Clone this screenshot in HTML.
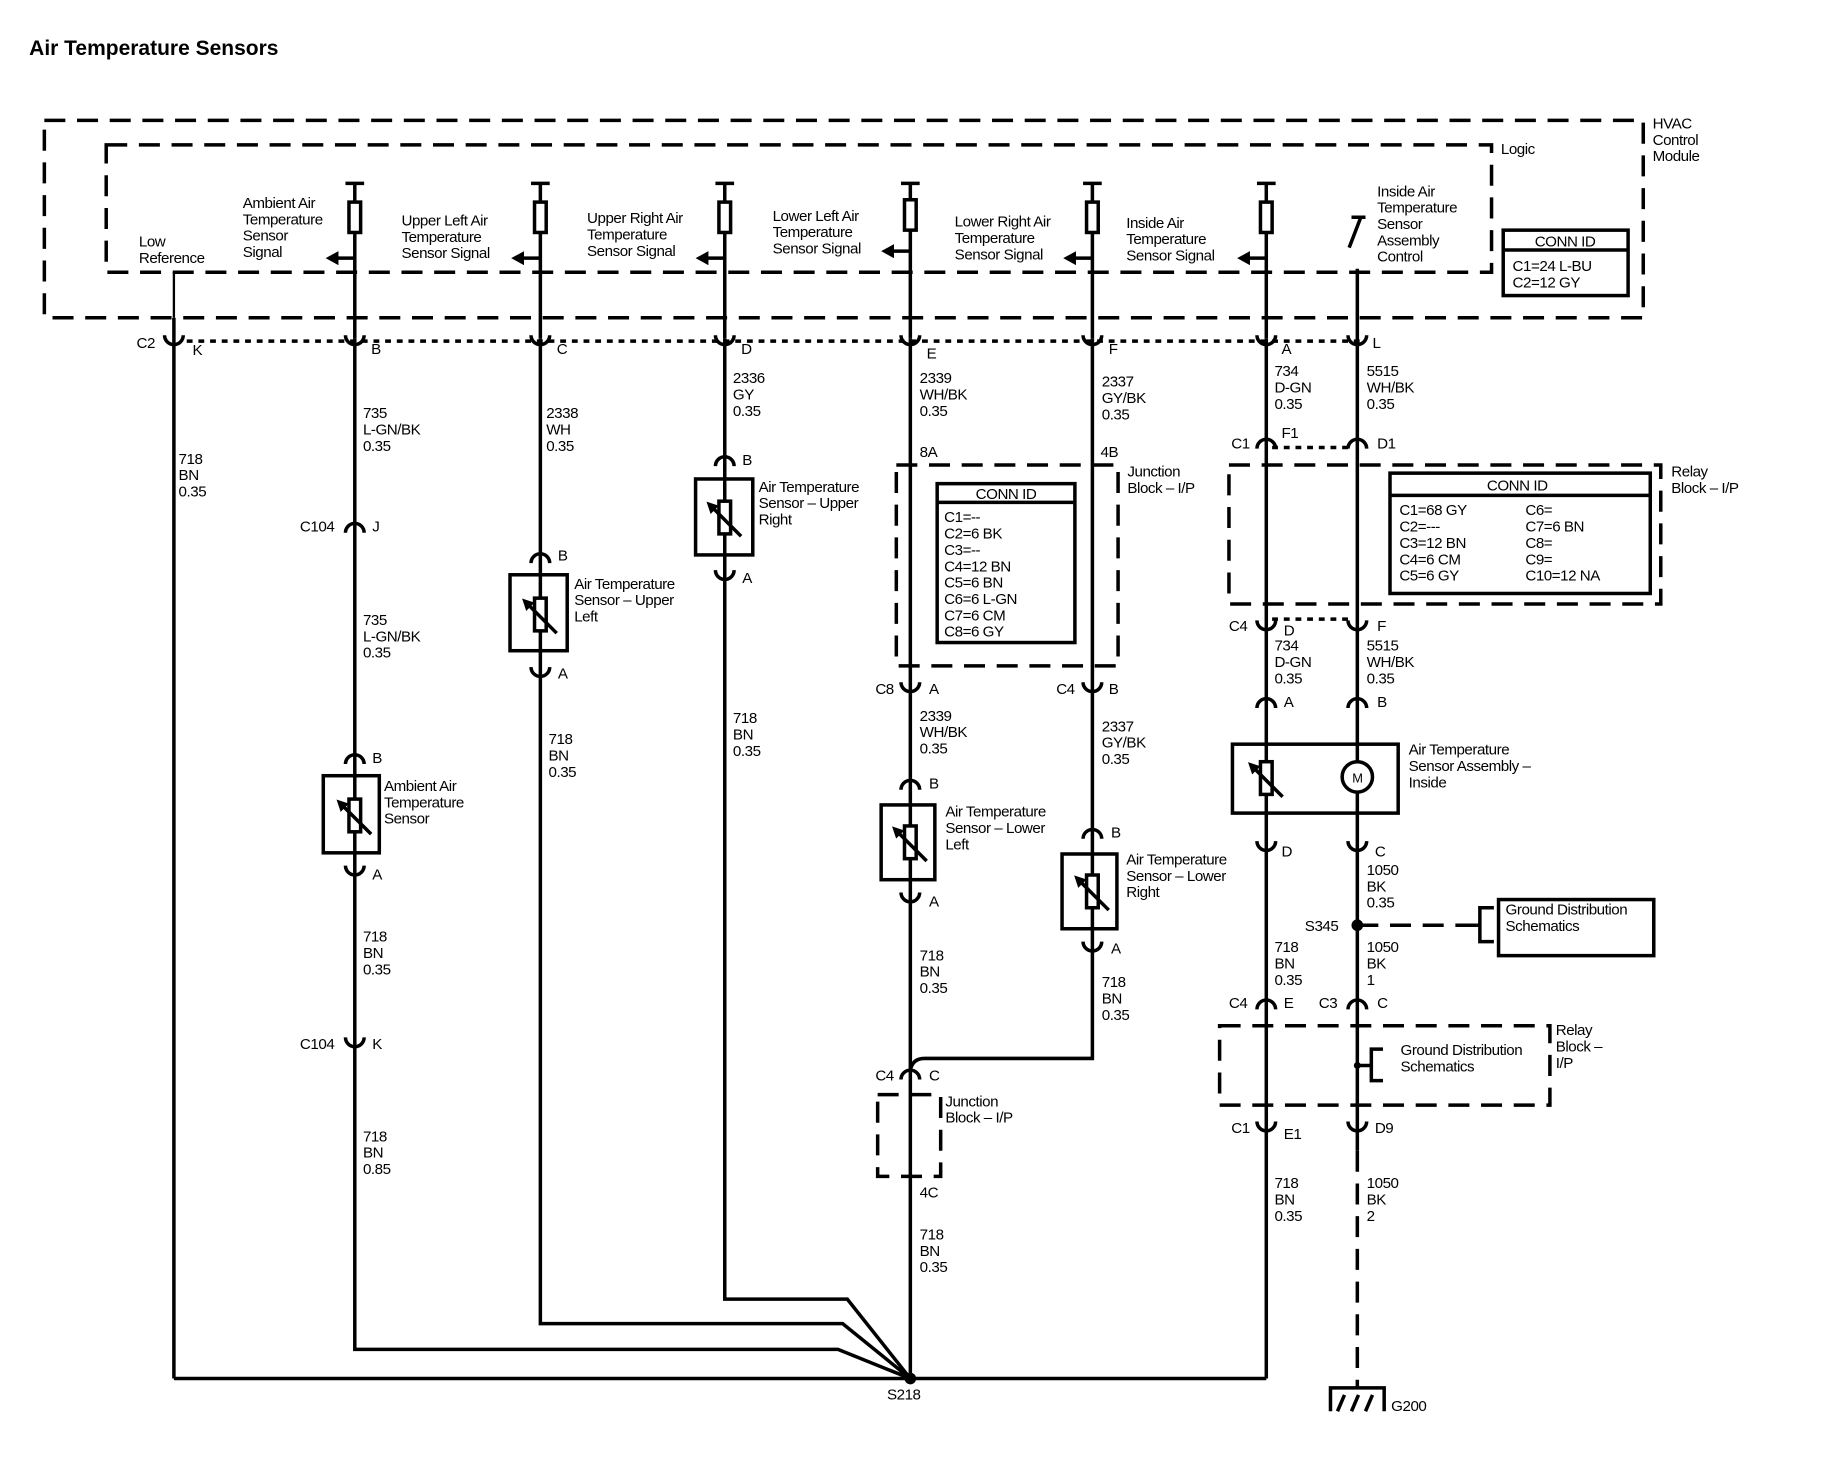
<!DOCTYPE html>
<html><head><meta charset="utf-8"><style>
html,body{margin:0;padding:0;background:#fff;}
svg{display:block;}
text{font-family:"Liberation Sans",sans-serif;font-size:13px;fill:#000;letter-spacing:-0.4px;}
.b{font-weight:bold;}
</style></head><body>
<svg width="1830" height="1472" viewBox="0 0 1568 1260" preserveAspectRatio="none" xmlns="http://www.w3.org/2000/svg">
<defs>
<marker id="ah" markerWidth="12" markerHeight="12" refX="2" refY="6" orient="auto" markerUnits="userSpaceOnUse"><path d="M11,6 L0,0 L0,12 Z" fill="#000"/></marker>
<marker id="ah2" markerWidth="10" markerHeight="10" refX="2" refY="5" orient="auto" markerUnits="userSpaceOnUse"><path d="M10,5 L0,0 L0,10 Z" fill="#000"/></marker>
</defs>
<text x="25" y="47" class="b" style="font-size:18px;letter-spacing:0">Air Temperature Sensors</text>

<g stroke="#000" fill="none" stroke-width="3" stroke-dasharray="18,10">
<rect x="38" y="103" width="1370" height="169"/>
<rect x="91" y="124" width="1187" height="109"/>
<rect x="768" y="398" width="190" height="172"/>
<rect x="1053" y="398" width="370" height="119"/>
<rect x="752" y="937" width="54" height="70"/>
<rect x="1045" y="878" width="283" height="68"/>
<line x1="1163" y1="985" x2="1163" y2="1188"/>
<line x1="1163" y1="792" x2="1265" y2="792"/>
</g>
<text x="1416" y="110">HVAC</text><text x="1416" y="124">Control</text><text x="1416" y="138">Module</text>
<text x="1286" y="132">Logic</text>
<g stroke="#000" fill="none" stroke-width="3">
<rect x="1288" y="197" width="107" height="56"/><line x1="1288" y1="214" x2="1395" y2="214"/>
<rect x="803" y="414" width="118" height="136"/><line x1="803" y1="430" x2="921" y2="430"/>
<rect x="1191" y="405" width="223" height="103"/><line x1="1191" y1="424" x2="1414" y2="424"/>
</g>
<text x="1341" y="211" text-anchor="middle">CONN ID</text>
<text x="1296" y="232">C1=24 L-BU</text><text x="1296" y="246">C2=12 GY</text>
<text x="862" y="427" text-anchor="middle">CONN ID</text>
<text x="809" y="447">C1=--</text><text x="809" y="461">C2=6 BK</text><text x="809" y="475">C3=--</text><text x="809" y="489">C4=12 BN</text><text x="809" y="503">C5=6 BN</text><text x="809" y="517">C6=6 L-GN</text><text x="809" y="531">C7=6 CM</text><text x="809" y="545">C8=6 GY</text>
<text x="1300" y="420" text-anchor="middle">CONN ID</text>
<text x="1199" y="441">C1=68 GY</text><text x="1199" y="455">C2=---</text><text x="1199" y="469">C3=12 BN</text><text x="1199" y="483">C4=6 CM</text><text x="1199" y="497">C5=6 GY</text>
<text x="1307" y="441">C6=</text><text x="1307" y="455">C7=6 BN</text><text x="1307" y="469">C8=</text><text x="1307" y="483">C9=</text><text x="1307" y="497">C10=12 NA</text>

<g stroke="#000" stroke-width="3" stroke-dasharray="5,5">
<line x1="160" y1="292" x2="1170" y2="292"/>
<line x1="1090" y1="383" x2="1160" y2="383"/>
<line x1="1090" y1="530" x2="1160" y2="530"/>
</g>

<g stroke="#000" fill="none" stroke-width="3">
<line x1="149" y1="233" x2="149" y2="272" stroke-width="2"/>
<line x1="149" y1="272" x2="149" y2="1180"/>
<line x1="149" y1="1180" x2="1085" y2="1180"/>
</g>
<g stroke="#000" fill="#fff" stroke-width="3">
<path d="M296 157H312M304 157V290M463 157V290M455 157H471M621 157V290M613 157H629M780 157V290M772 157H788M936 157V290M928 157H944M1085 157V290M1077 157H1093" fill="none"/>
<rect x="299" y="173" width="10" height="26"/><rect x="458" y="173" width="10" height="26"/><rect x="616" y="173" width="10" height="26"/><rect x="775" y="171" width="10" height="26"/><rect x="931" y="173" width="10" height="26"/><rect x="1080" y="173" width="10" height="26"/>
</g>
<g stroke="#000" stroke-width="3" fill="none">
<line x1="304" y1="221" x2="288" y2="221" marker-end="url(#ah)"/>
<line x1="463" y1="221" x2="447" y2="221" marker-end="url(#ah)"/>
<line x1="621" y1="221" x2="605" y2="221" marker-end="url(#ah)"/>
<line x1="780" y1="215" x2="764" y2="215" marker-end="url(#ah)"/>
<line x1="936" y1="221" x2="920" y2="221" marker-end="url(#ah)"/>
<line x1="1085" y1="221" x2="1069" y2="221" marker-end="url(#ah)"/>
<path d="M1158 186H1170M1166 186L1156 212M1163 230V985"/>
<path d="M304 290V1155H718L780 1180"/>
<path d="M463 290V1133H722L780 1180"/>
<path d="M621 290V1112H726L780 1180"/>
<path d="M780 290V1180"/>
<path d="M936 290V906H792Q782 906 780 916"/>
<path d="M1085 290V1180"/>
</g>
<text x="119" y="211">Low</text><text x="119" y="225">Reference</text>
<text x="208" y="178">Ambient Air</text><text x="208" y="192">Temperature</text><text x="208" y="206">Sensor</text><text x="208" y="220">Signal</text>
<text x="344" y="193">Upper Left Air</text><text x="344" y="207">Temperature</text><text x="344" y="221">Sensor Signal</text>
<text x="503" y="191">Upper Right Air</text><text x="503" y="205">Temperature</text><text x="503" y="219">Sensor Signal</text>
<text x="662" y="189">Lower Left Air</text><text x="662" y="203">Temperature</text><text x="662" y="217">Sensor Signal</text>
<text x="818" y="194">Lower Right Air</text><text x="818" y="208">Temperature</text><text x="818" y="222">Sensor Signal</text>
<text x="965" y="195">Inside Air</text><text x="965" y="209">Temperature</text><text x="965" y="223">Sensor Signal</text>
<text x="1180" y="168">Inside Air</text><text x="1180" y="182">Temperature</text><text x="1180" y="196">Sensor</text><text x="1180" y="210">Assembly</text><text x="1180" y="224">Control</text>

<g stroke="#000" stroke-width="3" fill="none">
<path d="M141 287a8 8 0 0 0 16 0M296 287a8 8 0 0 0 16 0M455 287a8 8 0 0 0 16 0M613 287a8 8 0 0 0 16 0M772 287a8 8 0 0 0 16 0M928 287a8 8 0 0 0 16 0M1077 287a8 8 0 0 0 16 0M1155 287a8 8 0 0 0 16 0"/>
<path d="M296 456a8 8 0 0 1 16 0M296 654a8 8 0 0 1 16 0M455 482a8 8 0 0 1 16 0M613 399a8 8 0 0 1 16 0M772 676a8 8 0 0 1 16 0M928 718a8 8 0 0 1 16 0M772 924a8 8 0 0 1 16 0M1077 384a8 8 0 0 1 16 0M1155 384a8 8 0 0 1 16 0M1077 606a8 8 0 0 1 16 0M1155 606a8 8 0 0 1 16 0M1077 864a8 8 0 0 1 16 0M1155 864a8 8 0 0 1 16 0"/>
<path d="M296 741a8 8 0 0 0 16 0M296 888a8 8 0 0 0 16 0M455 571a8 8 0 0 0 16 0M613 488a8 8 0 0 0 16 0M772 584a8 8 0 0 0 16 0M928 584a8 8 0 0 0 16 0M772 764a8 8 0 0 0 16 0M928 806a8 8 0 0 0 16 0M1077 531a8 8 0 0 0 16 0M1155 531a8 8 0 0 0 16 0M1077 720a8 8 0 0 0 16 0M1155 720a8 8 0 0 0 16 0M1077 960a8 8 0 0 0 16 0M1155 960a8 8 0 0 0 16 0"/>
</g>
<g stroke="#000" stroke-width="3" fill="#fff">
<rect x="277" y="664" width="48" height="66"/><rect x="299" y="684" width="10" height="28"/>
<rect x="437" y="492" width="49" height="65"/><rect x="458" y="512" width="10" height="28"/>
<rect x="596" y="410" width="49" height="65"/><rect x="616" y="429" width="10" height="28"/>
<rect x="755" y="689" width="46" height="64"/><rect x="775" y="707" width="10" height="28"/>
<rect x="910" y="731" width="47" height="64"/><rect x="931" y="749" width="10" height="28"/>
<rect x="1056" y="637" width="142" height="59"/><rect x="1080" y="652" width="10" height="28"/>
<circle cx="1163" cy="665" r="13"/>
</g>
<g stroke="#000" stroke-width="3" fill="none">
<line x1="304" y1="664" x2="304" y2="684"/><line x1="304" y1="712" x2="304" y2="730"/>
<line x1="463" y1="492" x2="463" y2="512"/><line x1="463" y1="540" x2="463" y2="557"/>
<line x1="621" y1="410" x2="621" y2="429"/><line x1="621" y1="457" x2="621" y2="475"/>
<line x1="780" y1="689" x2="780" y2="707"/><line x1="780" y1="735" x2="780" y2="753"/>
<line x1="936" y1="731" x2="936" y2="749"/><line x1="936" y1="777" x2="936" y2="795"/>
<line x1="1085" y1="637" x2="1085" y2="652"/><line x1="1085" y1="680" x2="1085" y2="696"/>
<line x1="1163" y1="637" x2="1163" y2="652"/><line x1="1163" y1="678" x2="1163" y2="696"/>
<line x1="318" y1="714" x2="294" y2="690" marker-end="url(#ah2)"/>
<line x1="477" y1="542" x2="453" y2="518" marker-end="url(#ah2)"/>
<line x1="635" y1="459" x2="611" y2="435" marker-end="url(#ah2)"/>
<line x1="794" y1="737" x2="770" y2="713" marker-end="url(#ah2)"/>
<line x1="950" y1="779" x2="926" y2="755" marker-end="url(#ah2)"/>
<line x1="1099" y1="682" x2="1075" y2="658" marker-end="url(#ah2)"/>
<path d="M1280 777H1268V806H1280M1268 792H1265"/>
<rect x="1284" y="770" width="133" height="48"/>
<path d="M1163 912H1175M1185 898H1175V925H1185"/>
<path d="M1140 1208V1188H1186V1208M1146 1208L1152 1194M1158 1208L1164 1194M1170 1208L1176 1194"/>
</g>
<text x="1163" y="670" text-anchor="middle" style="font-size:11px">M</text>
<circle cx="780" cy="1180" r="5" fill="#000"/>
<circle cx="1163" cy="792" r="5" fill="#000"/>
<circle cx="1163" cy="912" r="3" fill="#000"/>

<text x="117" y="298">C2</text><text x="165" y="304">K</text>
<text x="318" y="303">B</text><text x="477" y="303">C</text><text x="635" y="303">D</text><text x="794" y="307">E</text><text x="950" y="303">F</text><text x="1098" y="303">A</text><text x="1176" y="298">L</text>
<text x="257" y="455">C104</text><text x="319" y="455">J</text>
<text x="319" y="653">B</text><text x="319" y="753">A</text>
<text x="257" y="898">C104</text><text x="319" y="898">K</text>
<text x="478" y="480">B</text><text x="478" y="581">A</text>
<text x="636" y="398">B</text><text x="636" y="499">A</text>
<text x="788" y="391">8A</text><text x="943" y="391">4B</text>
<text x="966" y="408">Junction</text><text x="966" y="422">Block – I/P</text>
<text x="750" y="594">C8</text><text x="796" y="594">A</text>
<text x="905" y="594">C4</text><text x="950" y="594">B</text>
<text x="796" y="675">B</text><text x="796" y="776">A</text>
<text x="952" y="717">B</text><text x="952" y="816">A</text>
<text x="750" y="925">C4</text><text x="796" y="925">C</text>
<text x="810" y="947">Junction</text><text x="810" y="961">Block – I/P</text>
<text x="788" y="1025">4C</text>
<text x="760" y="1198">S218</text>
<text x="1055" y="384">C1</text><text x="1098" y="375">F1</text><text x="1180" y="384">D1</text>
<text x="1432" y="408">Relay</text><text x="1432" y="422">Block – I/P</text>
<text x="1053" y="540">C4</text><text x="1100" y="544">D</text><text x="1180" y="540">F</text>
<text x="1100" y="605">A</text><text x="1180" y="605">B</text>
<text x="1098" y="733">D</text><text x="1178" y="733">C</text>
<text x="1118" y="797">S345</text>
<text x="1290" y="783">Ground Distribution</text><text x="1290" y="797">Schematics</text>
<text x="1053" y="863">C4</text><text x="1100" y="863">E</text><text x="1130" y="863">C3</text><text x="1180" y="863">C</text>
<text x="1333" y="886">Relay</text><text x="1333" y="900">Block –</text><text x="1333" y="914">I/P</text>
<text x="1200" y="903">Ground Distribution</text><text x="1200" y="917">Schematics</text>
<text x="1055" y="970">C1</text><text x="1100" y="975">E1</text><text x="1178" y="970">D9</text>
<text x="1192" y="1208">G200</text>

<text x="329" y="677">Ambient Air</text><text x="329" y="691">Temperature</text><text x="329" y="705">Sensor</text>
<text x="492" y="504">Air Temperature</text><text x="492" y="518">Sensor – Upper</text><text x="492" y="532">Left</text>
<text x="650" y="421">Air Temperature</text><text x="650" y="435">Sensor – Upper</text><text x="650" y="449">Right</text>
<text x="810" y="699">Air Temperature</text><text x="810" y="713">Sensor – Lower</text><text x="810" y="727">Left</text>
<text x="965" y="740">Air Temperature</text><text x="965" y="754">Sensor – Lower</text><text x="965" y="768">Right</text>
<text x="1207" y="646">Air Temperature</text><text x="1207" y="660">Sensor Assembly –</text><text x="1207" y="674">Inside</text>

<text x="153" y="397">718</text><text x="153" y="411">BN</text><text x="153" y="425">0.35</text>
<text x="311" y="358">735</text><text x="311" y="372">L-GN/BK</text><text x="311" y="386">0.35</text>
<text x="311" y="535">735</text><text x="311" y="549">L-GN/BK</text><text x="311" y="563">0.35</text>
<text x="311" y="806">718</text><text x="311" y="820">BN</text><text x="311" y="834">0.35</text>
<text x="311" y="977">718</text><text x="311" y="991">BN</text><text x="311" y="1005">0.85</text>
<text x="468" y="358">2338</text><text x="468" y="372">WH</text><text x="468" y="386">0.35</text>
<text x="470" y="637">718</text><text x="470" y="651">BN</text><text x="470" y="665">0.35</text>
<text x="628" y="328">2336</text><text x="628" y="342">GY</text><text x="628" y="356">0.35</text>
<text x="628" y="619">718</text><text x="628" y="633">BN</text><text x="628" y="647">0.35</text>
<text x="788" y="328">2339</text><text x="788" y="342">WH/BK</text><text x="788" y="356">0.35</text>
<text x="788" y="617">2339</text><text x="788" y="631">WH/BK</text><text x="788" y="645">0.35</text>
<text x="788" y="822">718</text><text x="788" y="836">BN</text><text x="788" y="850">0.35</text>
<text x="788" y="1061">718</text><text x="788" y="1075">BN</text><text x="788" y="1089">0.35</text>
<text x="944" y="331">2337</text><text x="944" y="345">GY/BK</text><text x="944" y="359">0.35</text>
<text x="944" y="626">2337</text><text x="944" y="640">GY/BK</text><text x="944" y="654">0.35</text>
<text x="944" y="845">718</text><text x="944" y="859">BN</text><text x="944" y="873">0.35</text>
<text x="1092" y="322">734</text><text x="1092" y="336">D-GN</text><text x="1092" y="350">0.35</text>
<text x="1171" y="322">5515</text><text x="1171" y="336">WH/BK</text><text x="1171" y="350">0.35</text>
<text x="1092" y="557">734</text><text x="1092" y="571">D-GN</text><text x="1092" y="585">0.35</text>
<text x="1171" y="557">5515</text><text x="1171" y="571">WH/BK</text><text x="1171" y="585">0.35</text>
<text x="1171" y="749">1050</text><text x="1171" y="763">BK</text><text x="1171" y="777">0.35</text>
<text x="1092" y="815">718</text><text x="1092" y="829">BN</text><text x="1092" y="843">0.35</text>
<text x="1171" y="815">1050</text><text x="1171" y="829">BK</text><text x="1171" y="843">1</text>
<text x="1092" y="1017">718</text><text x="1092" y="1031">BN</text><text x="1092" y="1045">0.35</text>
<text x="1171" y="1017">1050</text><text x="1171" y="1031">BK</text><text x="1171" y="1045">2</text>
</svg>
</body></html>
